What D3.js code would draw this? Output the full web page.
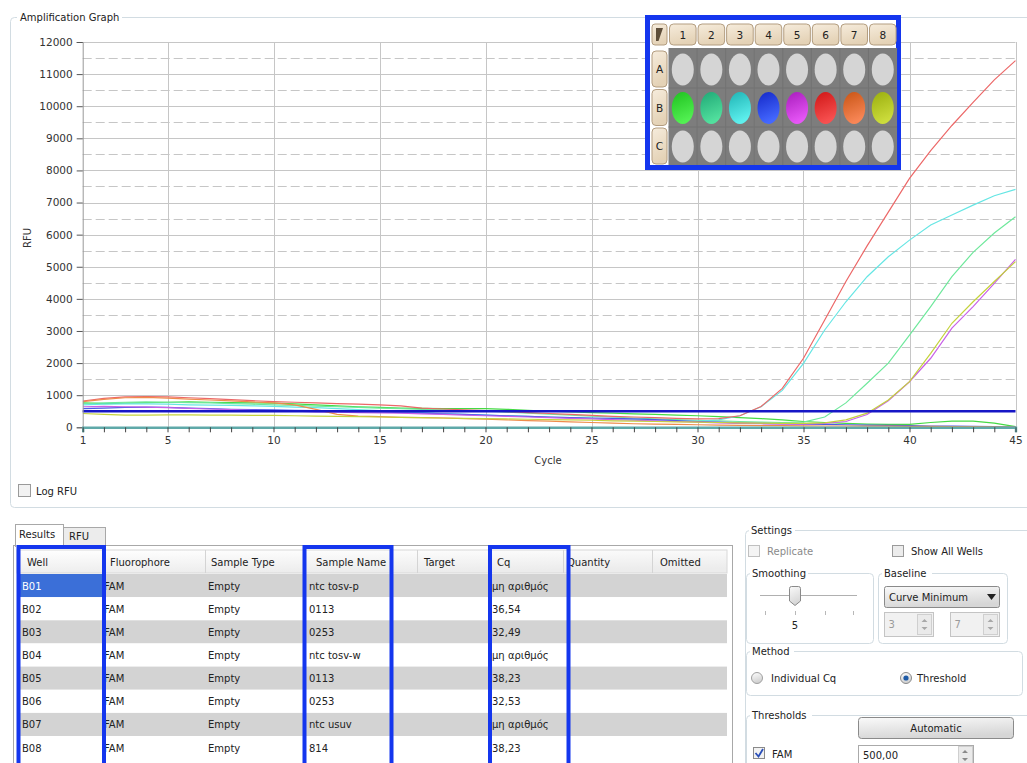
<!DOCTYPE html>
<html><head><meta charset="utf-8">
<script src="https://cdn.jsdelivr.net/npm/d3@7"></script>
<style>
body{margin:0;background:#fff;}
svg{display:block;font-family:"DejaVu Sans",sans-serif;font-size:10px;}
</style>
</head><body>
<svg id="c" width="1027" height="763"></svg>
<script>
// ---------------- DATA ----------------
const cycles = [1,2,3,4,5,6,7,8,9,10,11,12,13,14,15,16,17,18,19,20,21,22,23,24,25,26,27,28,29,30,31,32,33,34,35,36,37,38,39,40,41,42,43,44,45];
const cycleLabels = [1,5,10,15,20,25,30,35,40,45];
const rfuTicks = [0,1000,2000,3000,4000,5000,6000,7000,8000,9000,10000,11000,12000];
const rfuHalfTicks = [500,1500,2500,3500,4500,5500,6500,7500,8500,9500,10500,11500];
const threshold = 500;

const rfuB01 = [760,740,750,770,780,790,780,770,760,750,730,700,670,640,620,600,590,580,580,580,560,530,500,480,460,440,420,400,380,360,330,300,270,230,180,150,120,100,90,90,150,190,190,130,20];
const rfuB02 = [740,760,780,790,780,770,760,740,720,700,680,660,640,620,600,580,560,540,520,500,470,440,410,380,350,320,290,260,240,220,200,180,160,150,160,320,760,1370,2000,2870,3760,4690,5450,6050,6560];
const rfuB03 = [700,720,730,730,720,700,690,680,670,650,630,610,580,550,520,490,460,430,400,380,360,340,320,300,280,260,240,220,200,190,230,360,640,1150,1990,3030,3910,4690,5310,5830,6300,6610,6920,7210,7410];
const rfuB04 = [580,600,620,630,620,600,580,560,550,540,530,520,510,500,480,460,440,420,400,380,360,340,320,300,290,280,260,240,210,180,160,140,120,110,100,90,80,70,60,50,40,35,30,20,10];
const rfuB05 = [640,650,640,630,610,590,570,550,530,520,500,480,470,460,450,440,420,400,380,360,340,320,300,280,260,240,220,200,180,160,140,120,110,100,100,120,180,400,830,1420,2150,3090,3760,4480,5230];
const rfuB06 = [820,900,950,960,945,920,890,860,830,800,780,760,740,720,700,670,600,570,545,520,490,460,430,400,370,340,320,300,280,260,270,360,650,1210,2150,3340,4540,5650,6700,7750,8620,9400,10120,10820,11420];
const rfuB07 = [800,870,920,930,910,880,850,820,790,760,700,560,400,350,330,310,300,290,270,250,230,210,190,170,150,130,110,100,90,80,70,60,55,50,45,40,40,35,35,30,30,25,20,15,5];
const rfuB08 = [430,400,380,380,390,390,380,380,370,370,360,350,340,330,320,310,300,290,280,270,260,250,240,230,220,200,190,180,170,160,150,140,130,120,120,140,230,440,850,1420,2300,3240,3910,4540,5160];

const wells = ["B01","B02","B03","B04","B05","B06","B07","B08"];
const fluorophores = ["FAM","FAM","FAM","FAM","FAM","FAM","FAM","FAM"];
const sampleTypes = ["Empty","Empty","Empty","Empty","Empty","Empty","Empty","Empty"];
const sampleNames = ["ntc tosv-p","0113","0253","ntc tosv-w","0113","0253","ntc usuv","814"];
const cqValues = ["μη αριθμός","36,54","32,49","μη αριθμός","38,23","32,53","μη αριθμός","38,23"];
const tableColumns = ["Well","Fluorophore","Sample Type","Sample Name","Target","Cq","Quantity","Omitted"];
const plateRows = ["A","B","C"];
const plateCols = ["1","2","3","4","5","6","7","8"];

// ---------------- STYLES ----------------
const seriesList = [rfuB01,rfuB02,rfuB03,rfuB04,rfuB05,rfuB06,rfuB07,rfuB08];
const lineColors = ["#45da45","#6fe89c","#66e6e4","#4b5ce6","#c860e8","#ec6868","#ee8c4c","#c4d23c"];
const wellGrad = [["#1fc21f","#52f052"],["#1fa876","#52e09e"],["#1fb4b4","#5ef0ee"],["#1428c8","#4468ff"],["#a81cbc","#e656f6"],["#d01616","#f75050"],["#c85414","#f88656"],["#9aae0e","#ccdc3c"]];
const annoBlue = "#1436ee";
const boxGrey = "#d2dce2";

const svg = d3.select("#c");
const defs = svg.append("defs");
function vgrad(id, c1, c2){
  const g = defs.append("linearGradient").attr("id",id).attr("x1",0).attr("y1",0).attr("x2",0.3).attr("y2",1);
  g.append("stop").attr("offset","0%").attr("stop-color",c1);
  g.append("stop").attr("offset","100%").attr("stop-color",c2);
}
wellGrad.forEach((c,i)=>vgrad("wg"+i,c[0],c[1]));
vgrad("btn","#fafafa","#d6d6d6");
vgrad("hdr","#ffffff","#ececec");
vgrad("tan","#f6ecdc","#e4d2b6");
vgrad("rad","#ffffff","#d0d0d0");

// ---------------- CHART GROUP ----------------
svg.append("rect").attr("x",10.5).attr("y",17.5).attr("width",1030).attr("height",490).attr("rx",4)
  .attr("fill","none").attr("stroke",boxGrey);
svg.append("rect").attr("x",17).attr("y",10).attr("width",105).attr("height",14).attr("fill","#fff");
svg.append("text").attr("x",20).attr("y",21).attr("fill","#222").text("Amplification Graph");

const x = d3.scaleLinear().domain([1,45]).range([82.7,1015.5]);
const y = d3.scaleLinear().domain([0,12000]).range([427.3,42]);

const grid = svg.append("g");
grid.selectAll("line.hs").data(rfuTicks.slice(1)).join("line")
  .attr("x1",x(1)).attr("x2",x(45)).attr("y1",d=>Math.round(y(d))+0.5).attr("y2",d=>Math.round(y(d))+0.5)
  .attr("stroke","#c6c6c6");
grid.selectAll("line.hd").data(rfuHalfTicks).join("line")
  .attr("x1",x(1)).attr("x2",x(45)).attr("y1",d=>Math.round(y(d))+0.5).attr("y2",d=>Math.round(y(d))+0.5)
  .attr("stroke","#c6c6c6").attr("stroke-dasharray","9,4");
grid.selectAll("line.v").data(cycleLabels.slice(1)).join("line")
  .attr("x1",d=>Math.round(x(d))+0.5).attr("x2",d=>Math.round(x(d))+0.5).attr("y1",y(12000)).attr("y2",y(0))
  .attr("stroke","#c6c6c6");

defs.append("clipPath").attr("id","plotclip").append("rect")
  .attr("x",x(1)).attr("y",y(12000)-2).attr("width",x(45)-x(1)+1).attr("height",y(0)-y(12000)+2);

const line = d3.line().x((d,i)=>x(cycles[i])).y(d=>y(d));
svg.append("g").attr("clip-path","url(#plotclip)")
  .selectAll("path").data(seriesList).join("path")
  .attr("d",d=>line(d)).attr("fill","none").attr("stroke",(d,i)=>lineColors[i]).attr("stroke-width",1.2);

svg.append("line").attr("x1",x(1)).attr("x2",x(45)).attr("y1",y(threshold)).attr("y2",y(threshold))
  .attr("stroke","#1616c6").attr("stroke-width",2.6);

const yAxis = svg.append("g").attr("transform",`translate(${x(1)},0)`)
  .call(d3.axisLeft(y).tickValues(rfuTicks).tickSize(6).tickPadding(4).tickFormat(d3.format("d")));
yAxis.select(".domain").attr("stroke","#999");
yAxis.selectAll(".tick line").attr("stroke","#555");
yAxis.selectAll(".tick text").attr("fill","#333").style("font-size","10.5px").style("font-family","DejaVu Sans");

const xAxis = svg.append("g").attr("transform",`translate(0,${y(0)})`)
  .call(d3.axisBottom(x).tickValues(cycles).tickSize(5).tickPadding(4).tickFormat(d=>cycleLabels.includes(d)?d:""));
xAxis.select(".domain").attr("stroke","#5fa9a9").attr("stroke-width",2.4);
xAxis.selectAll(".tick line").attr("stroke","#444");
xAxis.selectAll(".tick text").attr("fill","#333").style("font-size","10.5px").style("font-family","DejaVu Sans");

svg.append("text").attr("x",548).attr("y",464).attr("text-anchor","middle").attr("fill","#333").text("Cycle");
svg.append("text").attr("transform","translate(31,238) rotate(-90)").attr("text-anchor","middle").attr("fill","#333").text("RFU");

// Log RFU checkbox
svg.append("rect").attr("x",18.5).attr("y",484.5).attr("width",12).attr("height",12).attr("fill","#f2f2f2").attr("stroke","#9a9a9a");
svg.append("text").attr("x",36).attr("y",495).attr("fill","#222").text("Log RFU");

// ---------------- PLATE OVERLAY ----------------
const plate = svg.append("g");
plate.append("rect").attr("x",647.5).attr("y",17.5).attr("width",251).attr("height",150)
  .attr("fill","#fff").attr("stroke",annoBlue).attr("stroke-width",5);
const cellW = 28.57, colX0 = 668.5, rowY = [51,89.5,128];
plate.append("rect").attr("x",652).attr("y",24).attr("width",15).attr("height",21).attr("rx",3)
  .attr("fill","url(#tan)").attr("stroke","#b39d80");
plate.append("path").attr("d","M656,28 L663,28 L658.5,41 L656,41 Z").attr("fill","#5e4e3a");
plate.selectAll("g.ch").data(plateCols).join("g").each(function(d,i){
  const g = d3.select(this);
  g.append("rect").attr("x",colX0+i*cellW+1).attr("y",24).attr("width",cellW-2).attr("height",21).attr("rx",4)
    .attr("fill","url(#tan)").attr("stroke","#b39d80");
  g.append("text").attr("x",colX0+i*cellW+cellW/2).attr("y",38.5).attr("text-anchor","middle")
    .attr("fill","#222").style("font-size","10.5px").text(d);
});
plate.append("rect").attr("x",colX0).attr("y",48).attr("width",8*cellW).attr("height",117).attr("fill","#7d7d7d");
plate.selectAll("line.pv").data(d3.range(1,8)).join("line")
  .attr("x1",d=>colX0+d*cellW).attr("x2",d=>colX0+d*cellW).attr("y1",48).attr("y2",165).attr("stroke","#737373");
plate.selectAll("line.ph").data([88,127]).join("line")
  .attr("x1",colX0).attr("x2",colX0+8*cellW).attr("y1",d=>d).attr("y2",d=>d).attr("stroke","#737373");
plate.selectAll("g.rh").data(plateRows).join("g").each(function(d,i){
  const g = d3.select(this);
  g.append("rect").attr("x",652).attr("y",rowY[i]).attr("width",15).attr("height",36).attr("rx",4)
    .attr("fill","url(#tan)").attr("stroke","#b39d80");
  g.append("text").attr("x",659.5).attr("y",rowY[i]+22).attr("text-anchor","middle")
    .attr("fill","#222").style("font-size","10.5px").text(d);
  plateCols.forEach((c,j)=>{
    g.append("ellipse").attr("cx",colX0+j*cellW+cellW/2).attr("cy",rowY[i]+18.5).attr("rx",11).attr("ry",16)
      .attr("fill", d==="B" ? `url(#wg${j})` : "#d5d5d5");
  });
});

// ---------------- RESULTS TABLE ----------------
const tbl = svg.append("g");
tbl.append("rect").attr("x",63.5).attr("y",527.5).attr("width",42).attr("height",18).attr("fill","#ececec").attr("stroke","#a8a8a8");
tbl.append("text").attr("x",69).attr("y",540).attr("fill","#222").text("RFU");
tbl.append("rect").attr("x",13.5).attr("y",545.5).attr("width",719).attr("height",230).attr("fill","#fff").attr("stroke","#a8a8a8");
tbl.append("rect").attr("x",15.5).attr("y",524.5).attr("width",48).attr("height",22).attr("fill","#fff").attr("stroke","#a8a8a8");
tbl.append("rect").attr("x",16).attr("y",544).attr("width",47).attr("height",3).attr("fill","#fff");
tbl.append("text").attr("x",19).attr("y",538).attr("fill","#222").text("Results");

const colEdges = [17,103,205,305,417,490,563,652,727];
const headX = [27,110,211,316,424,497,567,660];
const cellX = [22,104,208,309,420,492,566,656];
tbl.append("rect").attr("x",17).attr("y",550).attr("width",710).attr("height",23).attr("fill","url(#hdr)").attr("stroke","#d8d8d8");
tbl.selectAll("line.hs").data(colEdges.slice(1,-1)).join("line")
  .attr("x1",d=>d+0.5).attr("x2",d=>d+0.5).attr("y1",550).attr("y2",573).attr("stroke","#d4d4d4");
tbl.selectAll("text.h").data(tableColumns).join("text")
  .attr("x",(d,i)=>headX[i]).attr("y",566).attr("fill","#222").text(d=>d);

const rowTop = 574, rowH = 23.15;
const rows = tbl.selectAll("g.row").data(wells).join("g");
rows.append("rect").attr("x",17).attr("y",(d,i)=>rowTop+i*rowH).attr("width",710).attr("height",rowH)
  .attr("fill",(d,i)=>i%2===0?"#d3d3d3":"#ffffff");
rows.filter((d,i)=>i===0).append("rect").attr("x",17).attr("y",rowTop).attr("width",86).attr("height",rowH).attr("fill","#3b6fd8");
const rowCells = (i)=>[wells[i],fluorophores[i],sampleTypes[i],sampleNames[i],"",cqValues[i],"",""];
rows.each(function(d,i){
  const g = d3.select(this);
  rowCells(i).forEach((t,k)=>{
    if(!t) return;
    g.append("text").attr("x",cellX[k]).attr("y",rowTop+i*rowH+15.5)
      .attr("fill",(i===0&&k===0)?"#fff":"#222").text(t);
  });
});

// annotation boxes
[[18.5,104],[304.5,391.5],[490,568.5]].forEach(b=>{
  tbl.append("rect").attr("x",b[0]).attr("y",547).attr("width",b[1]-b[0]).attr("height",220)
    .attr("fill","none").attr("stroke",annoBlue).attr("stroke-width",4);
});

// ---------------- SETTINGS PANEL ----------------
const st = svg.append("g");
st.append("rect").attr("x",745.5).attr("y",530.5).attr("width",300).attr("height",250).attr("rx",4).attr("fill","none").attr("stroke",boxGrey);
st.append("rect").attr("x",749).attr("y",524).attr("width",46).attr("height",12).attr("fill","#fff");
st.append("text").attr("x",751).attr("y",534).attr("fill","#222").text("Settings");

st.append("rect").attr("x",748.5).attr("y",545.5).attr("width",11).attr("height",11).attr("fill","#f4f4f4").attr("stroke","#c0c0c0");
st.append("text").attr("x",767).attr("y",555).attr("fill","#8a8a8a").text("Replicate");
st.append("rect").attr("x",892.5).attr("y",545.5).attr("width",11).attr("height",11).attr("fill","#ececec").attr("stroke","#9a9a9a");
st.append("text").attr("x",911).attr("y",555).attr("fill","#222").text("Show All Wells");

function group(x0,y0,w,h,label,lw){
  st.append("rect").attr("x",x0+0.5).attr("y",y0+0.5).attr("width",w).attr("height",h).attr("rx",4).attr("fill","none").attr("stroke",boxGrey);
  st.append("rect").attr("x",x0+4).attr("y",y0-6).attr("width",lw).attr("height",12).attr("fill","#fff");
  st.append("text").attr("x",x0+6).attr("y",y0+4).attr("fill","#222").text(label);
}
group(746,573,127,70,"Smoothing",58);
group(878,573,129,70,"Baseline",50);
group(746,651,276,44,"Method",44);
group(746,715,300,60,"Thresholds",62);

// slider
st.append("line").attr("x1",760).attr("x2",857).attr("y1",595.5).attr("y2",595.5).attr("stroke","#b0b0b0");
[765,795,825,853].forEach(t=>st.append("line").attr("x1",t+0.5).attr("x2",t+0.5).attr("y1",611).attr("y2",615).attr("stroke","#b8b8b8"));
st.append("path").attr("d","M789.5,588.5 Q789.5,586.5 791.5,586.5 L798.5,586.5 Q800.5,586.5 800.5,588.5 L800.5,601 L795,605.5 L789.5,601 Z")
  .attr("fill","url(#btn)").attr("stroke","#8a8a8a");
st.append("text").attr("x",795).attr("y",629).attr("text-anchor","middle").attr("fill","#222").text("5");

// dropdown
st.append("rect").attr("x",884.5).attr("y",586.5).attr("width",115).attr("height",21).attr("rx",2).attr("fill","url(#btn)").attr("stroke","#8a8a8a");
st.append("text").attr("x",889).attr("y",601).attr("fill","#222").text("Curve Minimum");
st.append("path").attr("d","M987,594 L996,594 L991.5,600 Z").attr("fill","#222");
// spinboxes
[[884.5,"3"],[950.5,"7"]].forEach(s=>{
  st.append("rect").attr("x",s[0]).attr("y",612.5).attr("width",49).attr("height",24).attr("fill","#f1f1f1").attr("stroke","#c4c4c4");
  st.append("text").attr("x",s[0]+4).attr("y",628).attr("fill","#9a9a9a").text(s[1]);
  st.append("rect").attr("x",s[0]+33).attr("y",614.5).attr("width",14).attr("height",20).attr("fill","#eaeaea").attr("stroke","#cfcfcf");
  st.append("path").attr("d",`M${s[0]+37},622 L${s[0]+43},622 L${s[0]+40},619 Z M${s[0]+37},627 L${s[0]+43},627 L${s[0]+40},630 Z`).attr("fill","#a8a8a8");
});
// radios
st.append("circle").attr("cx",757).attr("cy",678).attr("r",5.5).attr("fill","url(#rad)").attr("stroke","#a0a0a0");
st.append("text").attr("x",771).attr("y",682).attr("fill","#222").text("Individual Cq");
st.append("circle").attr("cx",906).attr("cy",678).attr("r",5.5).attr("fill","url(#rad)").attr("stroke","#8a8a8a");
st.append("circle").attr("cx",906).attr("cy",678).attr("r",2.6).attr("fill","#1d5aa6");
st.append("text").attr("x",917).attr("y",682).attr("fill","#222").text("Threshold");
// automatic button
st.append("rect").attr("x",858.5).attr("y",717.5).attr("width",155).attr("height",21).attr("rx",3).attr("fill","url(#btn)").attr("stroke","#8a8a8a");
st.append("text").attr("x",936).attr("y",732).attr("text-anchor","middle").attr("fill","#222").text("Automatic");
// FAM threshold
st.append("rect").attr("x",753.5).attr("y",747.5).attr("width",11).attr("height",11).attr("fill","#f2f2f2").attr("stroke","#8a8a8a");
st.append("path").attr("d","M755.5,753 L758.5,756.5 L763,749").attr("fill","none").attr("stroke","#2a4fb8").attr("stroke-width",1.8);
st.append("text").attr("x",772).attr("y",758).attr("fill","#222").text("FAM");
st.append("rect").attr("x",858.5).attr("y",745.5).attr("width",115).attr("height",20).attr("fill","#fff").attr("stroke","#aaa");
st.append("text").attr("x",863).attr("y",759).attr("fill","#222").text("500,00");
st.append("rect").attr("x",958.5).attr("y",746.5).attr("width",14).attr("height",18).attr("fill","#eaeaea").attr("stroke","#cfcfcf");
st.append("path").attr("d","M962,753 L968,753 L965,750 Z M962,758 L968,758 L965,761 Z").attr("fill","#8a8a8a");
</script>
</body></html>
